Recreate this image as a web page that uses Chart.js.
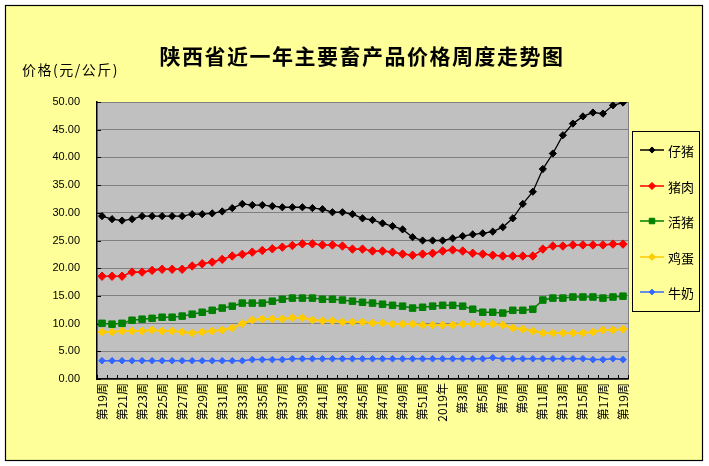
<!DOCTYPE html>
<html>
<head>
<meta charset="utf-8">
<script src="https://cdn.jsdelivr.net/npm/chart.js@4.4.1/dist/chart.umd.min.js"></script>
<style>
html,body{margin:0;padding:0;background:#fff;}
canvas{display:block;}
</style>
</head>
<body>
<canvas id="c" width="709" height="466"></canvas>
<script>
// ---- data ----
const categories = ['第19周','第20周','第21周','第22周','第23周','第24周','第25周','第26周','第27周','第28周',
  '第29周','第30周','第31周','第32周','第33周','第34周','第35周','第36周','第37周','第38周',
  '第39周','第40周','第41周','第42周','第43周','第44周','第45周','第46周','第47周','第48周',
  '第49周','第50周','第51周','第52周','2019年','第2周','第3周','第4周','第5周','第6周',
  '第7周','第8周','第9周','第10周','第11周','第12周','第13周','第14周','第15周','第16周',
  '第17周','第18周','第19周'];
const seriesNames = ['仔猪','猪肉','活猪','鸡蛋','牛奶'];
const piglet = [29.4,28.85,28.6,28.85,29.4,29.4,29.4,29.4,29.4,29.75,
  29.75,29.9,30.25,30.85,31.6,31.4,31.4,31.2,31.0,31.0,
  31.0,30.85,30.65,30.1,30.1,29.75,29.0,28.7,28.1,27.6,
  27.0,25.6,25.0,25.0,25.0,25.4,25.8,26.1,26.3,26.6,
  27.4,29.0,31.6,33.8,37.9,40.7,44.0,46.1,47.4,48.1,
  47.9,49.4,49.9];
const pork = [18.55,18.55,18.55,19.3,19.3,19.6,19.8,19.8,19.8,20.4,
  20.8,21.1,21.6,22.2,22.5,22.9,23.2,23.5,23.8,24.1,
  24.4,24.4,24.2,24.2,24.0,23.45,23.45,23.1,23.1,22.9,
  22.55,22.35,22.55,22.7,23.1,23.3,23.1,22.7,22.55,22.35,
  22.2,22.2,22.2,22.2,23.45,24.0,24.0,24.2,24.2,24.2,
  24.2,24.35,24.35];
const liveHog = [10.05,9.9,10.05,10.6,10.8,10.95,11.15,11.15,11.35,11.7,
  12.05,12.4,12.8,13.15,13.7,13.7,13.7,14.05,14.4,14.6,
  14.6,14.6,14.4,14.4,14.25,14.05,13.85,13.7,13.5,13.3,
  13.15,12.8,12.95,13.15,13.3,13.3,13.15,12.6,12.05,12.05,
  11.9,12.4,12.4,12.6,14.25,14.6,14.6,14.8,14.8,14.8,
  14.6,14.8,14.95];
const egg = [8.5,8.5,8.65,8.65,8.65,8.85,8.65,8.65,8.5,8.3,
  8.5,8.65,8.85,9.2,10.0,10.65,10.85,10.85,10.85,11.05,
  11.05,10.65,10.5,10.5,10.3,10.3,10.3,10.1,10.1,9.95,
  9.95,9.95,9.75,9.75,9.75,9.75,9.95,9.95,9.95,9.95,
  9.75,9.2,9.0,8.65,8.3,8.3,8.3,8.3,8.3,8.5,
  8.85,8.85,9.0];
const milk = [3.3,3.3,3.3,3.3,3.3,3.3,3.3,3.3,3.3,3.3,
  3.3,3.3,3.3,3.3,3.3,3.5,3.5,3.5,3.5,3.65,
  3.65,3.65,3.65,3.65,3.65,3.65,3.65,3.65,3.65,3.65,
  3.65,3.65,3.65,3.65,3.65,3.65,3.65,3.65,3.65,3.85,
  3.65,3.65,3.65,3.65,3.65,3.65,3.65,3.65,3.65,3.5,
  3.5,3.65,3.5];
const yTicks = [0,5,10,15,20,25,30,35,40,45,50];
const titleText = '陕西省近一年主要畜产品价格周度走势图';
const yTitleText = '价格(元/公斤)';

// ---- styles ----
const styles = [
  {color:'#000000', shape:'rectRot', r:3.6, lw:1.3},
  {color:'#FF0000', shape:'rectRot', r:4.2, lw:1.6},
  {color:'#008000', shape:'rect', r:4.6, lw:1.5},
  {color:'#FFCC00', shape:'rectRot', r:4.0, lw:2},
  {color:'#3366FF', shape:'rectRot', r:3.3, lw:1.5}
];
const values = [piglet, pork, liveHog, egg, milk];

const datasets = seriesNames.map((n,i)=>({
  label:n, data:values[i],
  borderColor:styles[i].color, backgroundColor:styles[i].color,
  borderWidth:styles[i].lw, pointStyle:styles[i].shape,
  pointRadius:styles[i].r, pointBorderWidth:1, pointBorderColor:styles[i].color,
  pointHoverRadius:styles[i].r, tension:0
}));

function drawMarker(ctx, shape, x, y, r, color){
  ctx.save();
  ctx.fillStyle = color; ctx.strokeStyle = color; ctx.lineWidth = 1;
  ctx.beginPath();
  if (shape === 'rect'){
    const s = Math.SQRT1_2 * r;
    ctx.rect(x-s, y-s, 2*s, 2*s);
  } else {
    ctx.moveTo(x-r, y); ctx.lineTo(x, y-r); ctx.lineTo(x+r, y); ctx.lineTo(x, y+r); ctx.closePath();
  }
  ctx.fill(); ctx.stroke();
  ctx.restore();
}

const decor = {
  id:'decor',
  beforeDraw(chart){
    const ctx = chart.ctx, a = chart.chartArea;
    ctx.save();
    ctx.fillStyle = '#ffffff'; ctx.fillRect(0,0,chart.width,chart.height);
    ctx.fillStyle = '#FFFF99'; ctx.fillRect(5.5,5.5,697,455);
    ctx.strokeStyle = '#000'; ctx.lineWidth = 1.2; ctx.strokeRect(5.5,5.5,697,455);
    ctx.fillStyle = '#C0C0C0'; ctx.fillRect(a.left, a.top, a.right-a.left, a.bottom-a.top);
    ctx.strokeStyle = '#808080'; ctx.lineWidth = 1;
    ctx.beginPath(); ctx.moveTo(a.right+0.5, a.top); ctx.lineTo(a.right+0.5, a.bottom); ctx.stroke();
    // title
    ctx.fillStyle = '#000';
    ctx.font = 'bold 21px "Noto Sans CJK SC"';
    ctx.textAlign = 'center'; ctx.textBaseline = 'middle';
    if ('letterSpacing' in ctx) ctx.letterSpacing = '1.5px';
    ctx.fillText(titleText, 362, 56);
    ctx.font = '14px "Noto Sans CJK SC"';
    ctx.textAlign = 'left';
    ctx.fillText(yTitleText, 22, 70);
    if ('letterSpacing' in ctx) ctx.letterSpacing = '0px';
    ctx.restore();
  },
  beforeDatasetsDraw(chart){
    const ctx = chart.ctx, a = chart.chartArea, xs = chart.scales.x, ys = chart.scales.y;
    ctx.save();
    ctx.strokeStyle = '#000'; ctx.lineWidth = 1;
    ctx.beginPath();
    yTicks.forEach(v=>{ const y = Math.round(ys.getPixelForValue(v))+0.5; ctx.moveTo(a.left, y); ctx.lineTo(a.left+4, y); });
    const n = categories.length, w = (xs.right - xs.left)/n;
    for (let i=0;i<=n;i++){ const x = Math.round(xs.left + i*w)+0.5; ctx.moveTo(x, a.bottom); ctx.lineTo(x, a.bottom-4); }
    ctx.stroke();
    ctx.restore();
  },
  afterDraw(chart){
    const ctx = chart.ctx;
    ctx.save();
    ctx.strokeStyle = '#000'; ctx.lineWidth = 1;
    ctx.strokeRect(632.5, 131.5, 67, 180);
    const ys = [150,186,221,257,292];
    ctx.font = '13px "Noto Sans CJK SC"';
    ctx.textBaseline = 'middle'; ctx.textAlign = 'left';
    chart.data.datasets.forEach((d,i)=>{
      const y = ys[i], st = styles[i];
      ctx.strokeStyle = st.color; ctx.lineWidth = 1.5;
      ctx.beginPath(); ctx.moveTo(640, y); ctx.lineTo(664, y); ctx.stroke();
      drawMarker(ctx, st.shape, 652, y, st.r*0.85, st.color);
      ctx.fillStyle = '#000';
      ctx.fillText(d.label, 668, y+1);
    });
    ctx.restore();
  }
};

new Chart(document.getElementById('c'), {
  type:'line',
  data:{labels:categories, datasets},
  options:{
    responsive:false, animation:false, devicePixelRatio:1,
    layout:{padding:{left:0, right:81, top:102, bottom:0}},
    plugins:{legend:{display:false}, tooltip:{enabled:false}, title:{display:false}},
    scales:{
      x:{
        offset:true,
        grid:{display:false, drawTicks:false},
        border:{display:true, color:'#000', width:1.5},
        ticks:{autoSkip:false, minRotation:90, maxRotation:90, padding:4, color:'#000',
          font:{family:'"Noto Sans CJK SC"', size:12},
          callback:(v,i)=> i%2===0 ? categories[i] : ''},
        afterFit:(s)=>{ s.height = 87; }
      },
      y:{
        min:0, max:50,
        afterBuildTicks:(s)=>{ s.ticks = yTicks.map(v=>({value:v})); },
        grid:{color:'#808080', lineWidth:1, drawTicks:false},
        border:{display:true, color:'#000', width:1.5},
        ticks:{padding:17, color:'#000', font:{family:'"Liberation Sans"', size:11},
          callback:(v)=>Number(v).toFixed(2)},
        afterFit:(s)=>{ s.width = 97; }
      }
    }
  },
  plugins:[decor]
});
</script>
</body>
</html>
